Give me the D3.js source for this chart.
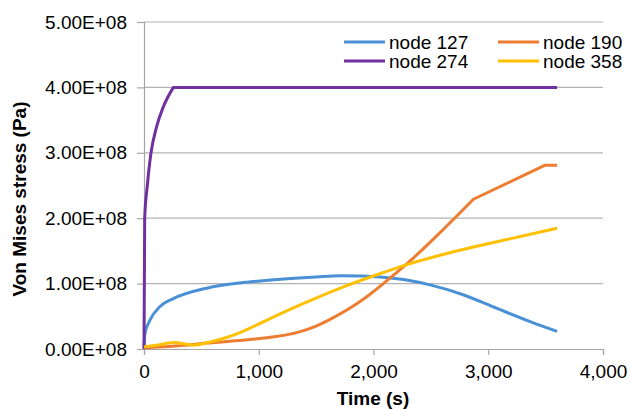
<!DOCTYPE html>
<html>
<head>
<script src="https://d3js.org/d3.v7.min.js"></script>
<style>
  body { margin: 0; background: #fff; }
  text { font-family: "Liberation Sans", Arial, sans-serif; fill: #000; }
</style>
</head>
<body>
<script>
// data (time in s, stress in Pa)
var xTicks = [0, 1000, 2000, 3000, 4000];
var yTicks = [0, 1e8, 2e8, 3e8, 4e8, 5e8];
var seriesNames = ["node 127", "node 190", "node 274", "node 358"];
var seriesColors = ["#4a90d6", "#ed7d31", "#7030a0", "#ffc000"];

var node127 = [[0,0.03e8],[9,0.24e8],[52,0.44e8],[140,0.65e8],[256,0.77e8],[547,0.93e8],[837,1.01e8],[1012,1.04e8],[1500,1.1e8],[1709,1.12e8],[1900,1.115e8],[2058,1.1e8],[2300,1.05e8],[2493,0.98e8],[2781,0.83e8],[3077,0.62e8],[3365,0.42e8],[3600,0.27e8]];
var node190 = [[0,0.02e8],[300,0.05e8],[547,0.09e8],[924,0.145e8],[1150,0.19e8],[1331,0.25e8],[1500,0.35e8],[1650,0.48e8],[1800,0.63e8],[1950,0.81e8],[2086,1.0e8],[2290,1.3e8],[2580,1.78e8],[2871,2.29e8],[3496,2.81e8],[3600,2.81e8]];
var node274 = [[0,0],[6,2.0e8],[29,2.5e8],[61,3.0e8],[110,3.4e8],[168,3.7e8],[256,4.0e8],[3600,4.0e8]];
var node358 = [[0,0.03e8],[120,0.06e8],[256,0.1e8],[430,0.06e8],[560,0.1e8],[690,0.16e8],[837,0.25e8],[924,0.32e8],[1331,0.65e8],[1738,0.95e8],[2086,1.17e8],[2290,1.29e8],[2639,1.46e8],[3075,1.64e8],[3600,1.845e8]];
var seriesData = [node127, node190, node274, node358];
// index of a sharp corner in each series (null = smooth all the way)
var cornerAt = [null, 13, 6, null];

var W = 630, H = 409;
var m = {left: 144, right: 27, top: 22, bottom: 60};

var svg = d3.select("body").append("svg")
  .attr("width", W).attr("height", H);

var x = d3.scaleLinear().domain([0, 4000]).range([m.left, W - m.right]);
var y = d3.scaleLinear().domain([0, 5e8]).range([H - m.bottom, m.top]);

// grid
svg.append("g").selectAll("line").data(yTicks.slice(1)).enter().append("line")
  .attr("x1", x(0)).attr("x2", x(4000))
  .attr("y1", function(d){ return y(d); }).attr("y2", function(d){ return y(d); })
  .attr("stroke", "#b3b3b3").attr("stroke-width", 1.2);

// y axis
var yAxis = svg.append("g").attr("transform", "translate(" + x(0) + ",0)")
  .call(d3.axisLeft(y).tickValues(yTicks).tickSize(7).tickPadding(10)
    .tickFormat(function(d){ return (d / 1e8).toFixed(2) + "E+08"; }));
// x axis
var xAxis = svg.append("g").attr("transform", "translate(0," + y(0) + ")")
  .call(d3.axisBottom(x).tickValues(xTicks).tickSize(6).tickPadding(10)
    .tickFormat(d3.format(",")));

[yAxis, xAxis].forEach(function(a){
  a.selectAll("path, line").attr("stroke", "#a6a6a6").attr("stroke-width", 1.2);
  a.selectAll("text").style("font-size", "19px").attr("fill", "#000");
});

// lines: smooth part with monotone curve, after a corner straight segments
var smooth = d3.line()
  .x(function(d){ return x(d[0]); })
  .y(function(d){ return y(d[1]); })
  .curve(d3.curveMonotoneX);
var straight = d3.line()
  .x(function(d){ return x(d[0]); })
  .y(function(d){ return y(d[1]); });

var lines = svg.append("g");
seriesData.forEach(function(pts, i){
  var k = cornerAt[i];
  var d = k == null ? smooth(pts)
    : smooth(pts.slice(0, k + 1)) + straight(pts.slice(k)).replace(/^M/, "L");
  lines.append("path")
    .attr("d", d)
    .attr("fill", "none")
    .attr("stroke", seriesColors[i])
    .attr("stroke-width", 3)
    .attr("stroke-linejoin", "round");
});

// axis titles
svg.append("text")
  .attr("x", 373).attr("y", 405)
  .attr("text-anchor", "middle")
  .style("font-size", "19px").style("font-weight", "bold")
  .text("Time (s)");
svg.append("text")
  .attr("transform", "translate(26,199) rotate(-90)")
  .attr("text-anchor", "middle")
  .style("font-size", "19px").style("font-weight", "bold")
  .text("Von Mises stress (Pa)");

// legend
var legendPos = [[344, 42], [498, 42], [344, 61], [498, 61]];
var lg = svg.append("g").selectAll("g").data(seriesNames).enter().append("g")
  .attr("transform", function(d, i){ return "translate(" + legendPos[i][0] + "," + legendPos[i][1] + ")"; });
lg.append("line")
  .attr("x1", 0).attr("x2", 41).attr("y1", 0).attr("y2", 0)
  .attr("stroke", function(d, i){ return seriesColors[i]; })
  .attr("stroke-width", 3);
lg.append("text")
  .attr("x", 45).attr("y", 0).attr("dy", "0.35em")
  .style("font-size", "19px")
  .text(function(d){ return d; });
</script>
</body>
</html>
